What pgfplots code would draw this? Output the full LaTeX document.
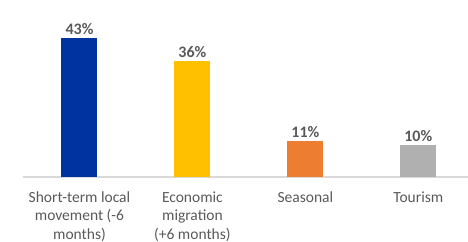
\documentclass[border=0pt]{standalone}
\usepackage{pgfplots}
\pgfplotsset{compat=1.18}
\usepackage{fontspec}
\setmainfont{Carlito}
\definecolor{cblue}{HTML}{0033A0}
\definecolor{cyellow}{HTML}{FFC000}
\definecolor{corange}{HTML}{ED7D31}
\definecolor{cgray}{HTML}{B0B0B0}
\definecolor{ctext}{HTML}{595959}
\definecolor{caxis}{HTML}{D9D9D9}
\begin{document}
\begin{tikzpicture}[x=1pt,y=1pt]
\path[use as bounding box] (-23,-64) rectangle (445,177);
\begin{axis}[
  at={(0,0)}, anchor=south west,
  scale only axis, width=445pt, height=177pt,
  xmin=-0.5, xmax=3.44, ymin=0, ymax=54.8,
  axis y line=none,
  axis x line*=bottom,
  x axis line style={caxis, line width=1.2pt, -},
  xtick={0,1,2,3},
  xticklabels={{Short-term local\\movement (-6\\months)},{Economic\\migration\\(+6 months)},{Seasonal},{Tourism}},
  xticklabel style={align=center, font=\fontsize{15.5}{18.5}\selectfont, text=ctext, yshift=-11pt},
  major tick length=0pt,
  /pgf/number format/assume math mode=true,
  ybar, bar width=36pt, bar shift=0pt,
  nodes near coords={\pgfmathprintnumber{\pgfplotspointmeta}\%},
  nodes near coords style={font=\bfseries\fontsize{16}{18}\selectfont, text=ctext, yshift=0pt},
  clip=false,
]
\addplot[fill=cblue, draw=none] coordinates {(0,43)};
\addplot[fill=cyellow, draw=none] coordinates {(1,36)};
\addplot[fill=corange, draw=none] coordinates {(2,11)};
\addplot[fill=cgray, draw=none] coordinates {(3,10)};
\end{axis}
\end{tikzpicture}
\end{document}
